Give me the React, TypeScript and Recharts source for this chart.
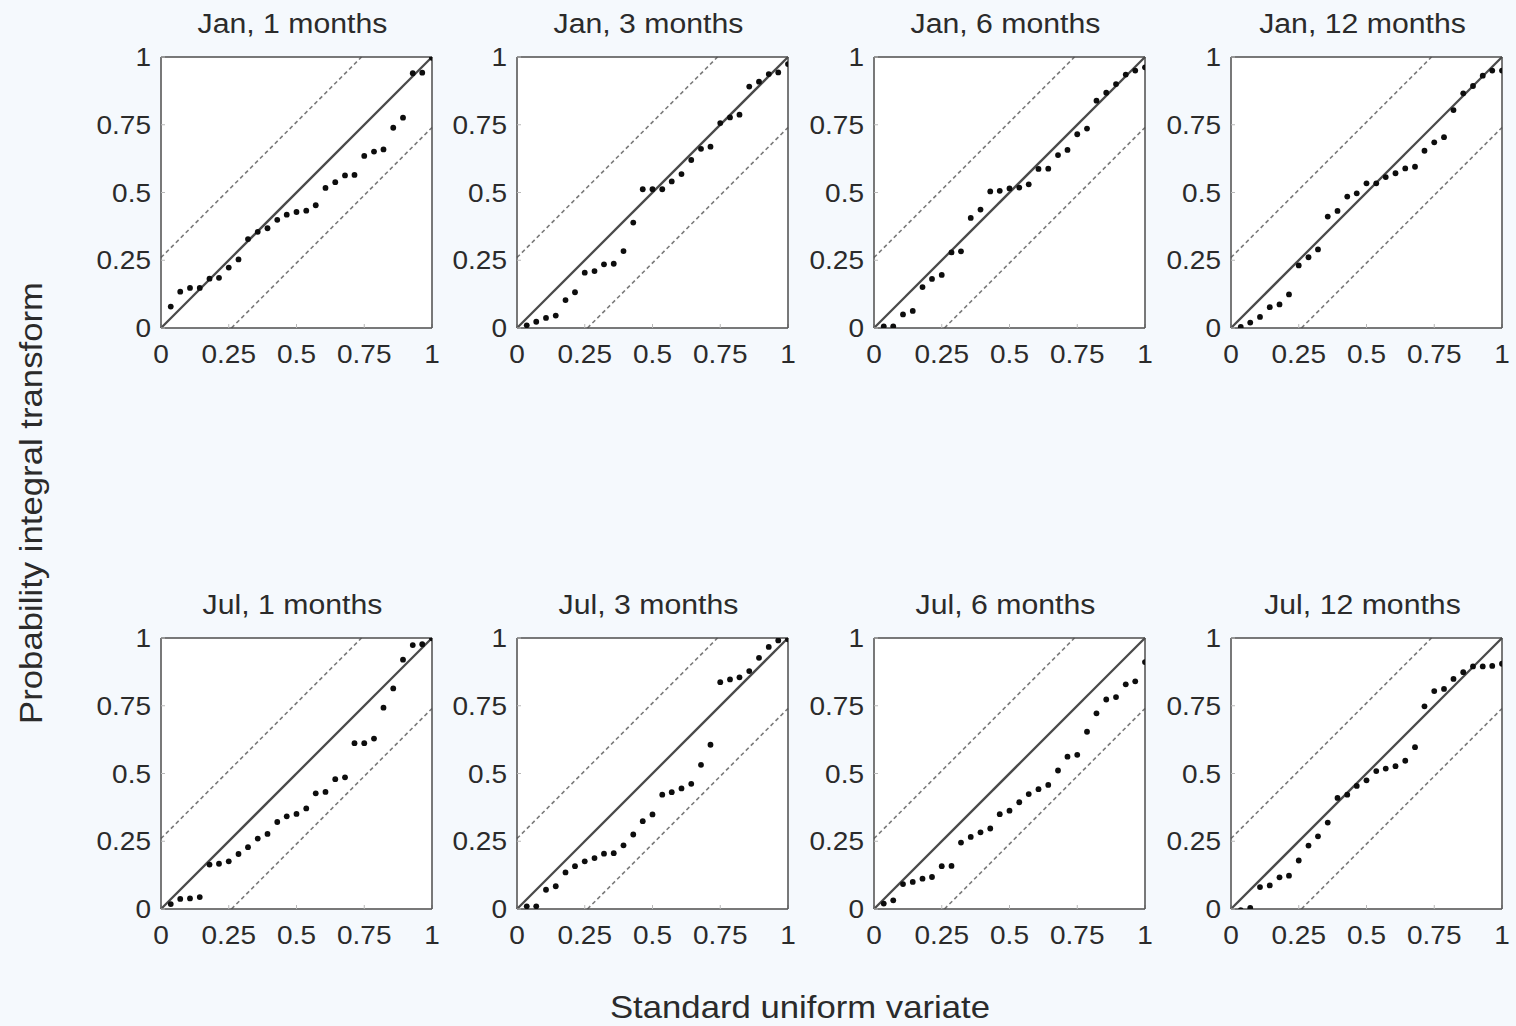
import React from 'react';
import { ScatterChart, Scatter, XAxis, YAxis, ReferenceLine, CartesianGrid } from 'recharts';

// ---------- data ----------
const months = ['Jan', 'Jul'];
const horizons = [1, 3, 6, 12];
const tickValues = [0, 0.25, 0.5, 0.75, 1];
const tickLabels = ['0', '0.25', '0.5', '0.75', '1'];
const bandWidth = 0.26;
const xLabel = 'Standard uniform variate';
const yLabel = 'Probability integral transform';

// standard uniform variates (i / 28)
const uniformX = [
  0.036, 0.071, 0.107, 0.143, 0.179, 0.214, 0.25, 0.286, 0.321, 0.357, 0.393, 0.429, 0.464, 0.5,
  0.536, 0.571, 0.607, 0.643, 0.679, 0.714, 0.75, 0.786, 0.821, 0.857, 0.893, 0.929, 0.964, 1.0,
];

const jan1 = [
  0.079, 0.134, 0.148, 0.148, 0.182, 0.185, 0.223, 0.253, 0.328, 0.355, 0.368, 0.399, 0.418, 0.428,
  0.433, 0.453, 0.517, 0.538, 0.563, 0.565, 0.635, 0.651, 0.659, 0.739, 0.776, 0.94, 0.942, 0.997,
];
const jan3 = [
  0.01, 0.023, 0.037, 0.046, 0.103, 0.132, 0.204, 0.21, 0.235, 0.237, 0.284, 0.389, 0.512, 0.512,
  0.512, 0.541, 0.568, 0.62, 0.661, 0.669, 0.756, 0.777, 0.787, 0.891, 0.909, 0.937, 0.943, 0.974,
];
const jan6 = [
  0.006, 0.006, 0.05, 0.063, 0.151, 0.181, 0.196, 0.279, 0.283, 0.406, 0.437, 0.504, 0.506, 0.515,
  0.518, 0.53, 0.587, 0.588, 0.638, 0.657, 0.715, 0.736, 0.839, 0.868, 0.9, 0.935, 0.95, 0.962,
];
const jan12 = [
  0.004, 0.02, 0.041, 0.077, 0.087, 0.124, 0.231, 0.261, 0.29, 0.411, 0.432, 0.485, 0.497, 0.534,
  0.534, 0.557, 0.571, 0.589, 0.595, 0.654, 0.685, 0.704, 0.804, 0.866, 0.893, 0.931, 0.95, 0.95,
];
const jul1 = [
  0.018, 0.037, 0.039, 0.044, 0.164, 0.167, 0.176, 0.203, 0.228, 0.26, 0.277, 0.321, 0.342, 0.351,
  0.371, 0.427, 0.432, 0.479, 0.486, 0.612, 0.612, 0.629, 0.743, 0.814, 0.92, 0.974, 0.977, 0.999,
];
const jul3 = [
  0.01, 0.01, 0.071, 0.084, 0.135, 0.158, 0.176, 0.188, 0.204, 0.206, 0.235, 0.275, 0.324, 0.349,
  0.422, 0.431, 0.445, 0.462, 0.532, 0.606, 0.837, 0.847, 0.855, 0.878, 0.927, 0.967, 0.991, 0.995,
];
const jul6 = [
  0.02, 0.032, 0.092, 0.1, 0.112, 0.118, 0.158, 0.159, 0.245, 0.266, 0.283, 0.297, 0.35, 0.363,
  0.394, 0.424, 0.442, 0.458, 0.511, 0.562, 0.569, 0.654, 0.722, 0.773, 0.782, 0.829, 0.84, 0.911,
];
const jul12 = [
  -0.004, 0.004, 0.081, 0.087, 0.117, 0.123, 0.179, 0.234, 0.268, 0.319, 0.41, 0.422, 0.454, 0.475,
  0.509, 0.518, 0.527, 0.547, 0.597, 0.748, 0.804, 0.812, 0.849, 0.874, 0.895, 0.895, 0.897, 0.905,
];

const panelSeries = [
  [jan1, jan3, jan6, jan12],
  [jul1, jul3, jul6, jul12],
];

// ---------- layout / style ----------
const FONT = "'Liberation Sans', Arial, Helvetica, sans-serif";
const TEXT = '#2b2b2b';
const BG = '#f5f9fd';
const SX = 1.12;
const PLOT = 271;
const colLefts = [161, 517, 874, 1231];
const rowTops = [57, 638];
const YAX_W = 70;
const TOP_OFF = 15;

const XTick = (props: any) => {
  const { x, y, payload } = props;
  const idx = tickValues.indexOf(payload.value);
  return (
    <text
      transform={`translate(${x},${y + 19}) scale(${SX},1)`}
      textAnchor="middle"
      fontSize={25}
      fill={TEXT}
      fontFamily={FONT}
    >
      {idx >= 0 ? tickLabels[idx] : String(payload.value)}
    </text>
  );
};

const YTick = (props: any) => {
  const { x, y, payload } = props;
  const idx = tickValues.indexOf(payload.value);
  return (
    <text
      transform={`translate(${x},${y + 9}) scale(${SX},1)`}
      textAnchor="end"
      fontSize={25}
      fill={TEXT}
      fontFamily={FONT}
    >
      {idx >= 0 ? tickLabels[idx] : String(payload.value)}
    </text>
  );
};

const NoTick = () => <g />;

const Dot = (props: any) => <circle cx={props.cx} cy={props.cy} r={2.9} fill="#0d0d0d" />;

const axisLineStyle = { stroke: '#4d4d4d', strokeWidth: 1.5 };
const tickLineStyle = { stroke: '#b8b8b8', strokeWidth: 1 };

function Panel({ ys, left, top }: { ys: number[]; left: number; top: number }) {
  const data = uniformX.map((x, i) => ({ x, y: ys[i] }));
  const width = YAX_W + PLOT + 1 + 14;
  const height = TOP_OFF + PLOT + 45;
  return (
    <div style={{ position: 'absolute', left: left - YAX_W, top: top - TOP_OFF }}>
      <ScatterChart width={width} height={height} margin={{ top: 14, right: 14, bottom: 0, left: 0 }}>
        <CartesianGrid horizontal={false} vertical={false} fill="#ffffff" />
        <XAxis
          xAxisId={0}
          dataKey="x"
          type="number"
          domain={[0, 1]}
          ticks={tickValues}
          interval={0}
          height={45}
          tickSize={-4}
          tickMargin={20}
          axisLine={axisLineStyle}
          tickLine={tickLineStyle}
          tick={<XTick />}
          allowDataOverflow
        />
        <XAxis
          xAxisId="top"
          orientation="top"
          type="number"
          domain={[0, 1]}
          ticks={tickValues}
          interval={0}
          height={1}
          tickSize={-4}
          axisLine={axisLineStyle}
          tickLine={tickLineStyle}
          tick={NoTick}
        />
        <YAxis
          yAxisId={0}
          dataKey="y"
          type="number"
          domain={[0, 1]}
          ticks={tickValues}
          interval={0}
          width={YAX_W}
          tickSize={-4}
          tickMargin={14}
          axisLine={axisLineStyle}
          tickLine={tickLineStyle}
          tick={<YTick />}
          allowDataOverflow
        />
        <YAxis
          yAxisId="right"
          orientation="right"
          type="number"
          domain={[0, 1]}
          ticks={tickValues}
          interval={0}
          width={1}
          tickSize={-4}
          axisLine={axisLineStyle}
          tickLine={tickLineStyle}
          tick={NoTick}
        />
        <ReferenceLine
          xAxisId={0}
          yAxisId={0}
          segment={[{ x: 0, y: bandWidth }, { x: 1 - bandWidth, y: 1 }]}
          stroke="#7a7a7a"
          strokeWidth={1.6}
          strokeDasharray="4 3"
          ifOverflow="visible"
        />
        <ReferenceLine
          xAxisId={0}
          yAxisId={0}
          segment={[{ x: bandWidth, y: 0 }, { x: 1, y: 1 - bandWidth }]}
          stroke="#7a7a7a"
          strokeWidth={1.6}
          strokeDasharray="4 3"
          ifOverflow="visible"
        />
        <ReferenceLine
          xAxisId={0}
          yAxisId={0}
          segment={[{ x: 0, y: 0 }, { x: 1, y: 1 }]}
          stroke="#4a4a4a"
          strokeWidth={2.3}
          ifOverflow="visible"
        />
        <Scatter xAxisId={0} yAxisId={0} data={data} shape={Dot} isAnimationActive={false} />
      </ScatterChart>
    </div>
  );
}

export default function App() {
  return (
    <div
      style={{
        position: 'absolute',
        left: 0,
        top: 0,
        width: 1516,
        height: 1026,
        background: BG,
        overflow: 'hidden',
      }}
    >
      {months.map((m, r) =>
        horizons.map((h, c) => (
          <Panel key={`${m}-${h}`} ys={panelSeries[r][c]} left={colLefts[c]} top={rowTops[r]} />
        ))
      )}
      <svg
        width={1516}
        height={1026}
        style={{ position: 'absolute', left: 0, top: 0, pointerEvents: 'none' }}
      >
        {months.map((m, r) =>
          horizons.map((h, c) => (
            <text
              key={`t-${m}-${h}`}
              transform={`translate(${colLefts[c] + PLOT / 2 - 4},${rowTops[r] - 24}) scale(${SX},1)`}
              textAnchor="middle"
              fontSize={27}
              fill={TEXT}
              fontFamily={FONT}
            >
              {`${m}, ${h} months`}
            </text>
          ))
        )}
        <text
          transform={`translate(800,1018) scale(${SX},1)`}
          textAnchor="middle"
          fontSize={31}
          fill={TEXT}
          fontFamily={FONT}
        >
          {xLabel}
        </text>
        <text
          transform={`translate(42,503) rotate(-90) scale(${SX},1)`}
          textAnchor="middle"
          fontSize={31}
          fill={TEXT}
          fontFamily={FONT}
        >
          {yLabel}
        </text>
      </svg>
    </div>
  );
}
